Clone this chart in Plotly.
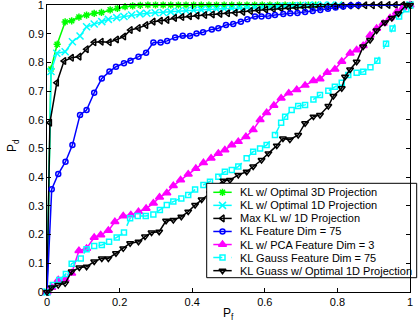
import plotly.graph_objects as go

# ---------------- data ----------------
names = [
    "KL w/ Optimal 3D Projection",
    "KL w/ Optimal 1D Projection",
    "Max KL w/ 1D Projection",
    "KL Feature Dim = 75",
    "KL w/ PCA Feature Dim = 3",
    "KL Gauss Feature Dim = 75",
    "KL Guass w/ Optimal 1D Projection",
]

green_x = [0, 0.011, 0.028, 0.05, 0.068, 0.088, 0.109, 0.13, 0.15, 0.174, 0.194, 0.215, 0.236,
           0.257, 0.278, 0.299, 0.32, 0.341, 0.362, 0.383, 0.404, 0.425, 0.446, 0.467, 0.488,
           0.509, 0.53, 0.551, 0.572, 0.593, 0.614, 0.635, 0.656, 0.677, 0.698, 0.72, 0.74, 1.0]
green_y = [0, 0.777, 0.863, 0.941, 0.945, 0.958, 0.965, 0.971, 0.974, 0.983, 0.988, 0.994, 0.997,
           0.999, 1, 1, 1, 1, 1, 1, 1, 1, 1, 1, 1,
           1, 1, 1, 1, 1, 1, 1, 1, 1, 1, 1, 1, 1]

cyan_x = [0, 0.011, 0.027, 0.05, 0.07, 0.091, 0.109, 0.13, 0.151, 0.169, 0.192, 0.212, 0.233,
          0.256, 0.275, 0.298, 0.32, 0.341, 0.362, 0.383, 0.404, 0.425, 0.446, 0.467, 0.488,
          0.509, 0.53, 0.551, 0.572, 0.593, 0.614, 0.635, 0.656, 0.677, 0.698, 0.72, 0.74,
          0.761, 0.782, 0.803, 1.0]
cyan_y = [0, 0.768, 0.832, 0.837, 0.872, 0.892, 0.924, 0.934, 0.942, 0.95, 0.956, 0.96, 0.965,
          0.969, 0.971, 0.973, 0.974, 0.976, 0.978, 0.98, 0.982, 0.983, 0.984, 0.986, 0.987,
          0.988, 0.99, 0.991, 0.992, 0.993, 0.994, 0.995, 0.996, 0.997, 0.998, 0.999, 1.0,
          1.0, 1.0, 1.0, 1.0]

maxkl_x = [0, 0.008, 0.027, 0.047, 0.068, 0.089, 0.109, 0.13, 0.15, 0.172, 0.192, 0.212, 0.23,
           0.252, 0.273, 0.293, 0.313, 0.331, 0.352, 0.372, 0.393, 0.414, 0.435, 0.456, 0.477,
           0.498, 0.519, 0.54, 0.561, 0.582, 0.603, 0.624, 0.645, 0.666, 0.687, 0.708, 0.729,
           0.75, 0.771, 0.792, 0.813, 0.834, 0.855, 0.876, 0.897, 0.918, 0.94, 0.96, 0.98, 1.0]
maxkl_y = [0, 0.59, 0.729, 0.805, 0.816, 0.82, 0.846, 0.87, 0.872, 0.87, 0.88, 0.89, 0.913,
           0.92, 0.93, 0.942, 0.945, 0.948, 0.955, 0.958, 0.961, 0.963, 0.965, 0.967, 0.969,
           0.971, 0.973, 0.976, 0.979, 0.982, 0.984, 0.986, 0.988, 0.99, 0.991, 0.992, 0.993,
           0.994, 0.995, 0.996, 0.997, 0.998, 0.998, 0.999, 0.999, 1.0, 1.0, 1.0, 1.0, 1.0]

blue_x = [0, 0.013, 0.031, 0.051, 0.07, 0.091, 0.109, 0.13, 0.151, 0.172, 0.19, 0.212, 0.23,
          0.252, 0.273, 0.293, 0.313, 0.331, 0.353, 0.374, 0.394, 0.412, 0.43, 0.454, 0.472,
          0.493, 0.513, 0.534, 0.552, 0.573, 0.591, 0.61, 0.628, 0.651, 0.67, 0.69, 0.711,
          0.732, 0.753, 0.774, 0.795, 0.816, 0.837, 0.858, 1.0]
blue_y = [0, 0.358, 0.411, 0.454, 0.512, 0.617, 0.634, 0.694, 0.744, 0.768, 0.785, 0.797, 0.806,
          0.82, 0.834, 0.869, 0.869, 0.875, 0.887, 0.893, 0.892, 0.901, 0.905, 0.915, 0.919,
          0.93, 0.934, 0.942, 0.95, 0.96, 0.96, 0.962, 0.965, 0.969, 0.971, 0.972, 0.976,
          0.979, 0.983, 0.987, 0.991, 0.995, 0.998, 1.0, 1.0]

pca_x = [0, 0.013, 0.031, 0.05, 0.068, 0.088, 0.109, 0.13, 0.148, 0.169, 0.187, 0.21, 0.231,
         0.252, 0.273, 0.293, 0.31, 0.33, 0.348, 0.368, 0.389, 0.41, 0.431, 0.452, 0.472,
         0.49, 0.509, 0.527, 0.548, 0.568, 0.587, 0.605, 0.625, 0.645, 0.666, 0.688, 0.711,
         0.734, 0.752, 0.772, 0.793, 0.812, 0.835, 0.853, 0.871, 0.89, 0.908, 0.926, 0.945,
         0.963, 0.98, 1.0]
pca_y = [0, 0.016, 0.042, 0.044, 0.065, 0.144, 0.152, 0.19, 0.199, 0.214, 0.245, 0.265, 0.268,
         0.28, 0.291, 0.309, 0.33, 0.345, 0.37, 0.39, 0.41, 0.43, 0.45, 0.466, 0.483,
         0.495, 0.512, 0.524, 0.541, 0.565, 0.6, 0.625, 0.65, 0.675, 0.693, 0.705, 0.72,
         0.736, 0.742, 0.765, 0.776, 0.803, 0.832, 0.843, 0.858, 0.895, 0.918, 0.936, 0.955,
         0.975, 0.99, 1.0]

gauss_x = [0, 0.016, 0.034, 0.052, 0.068, 0.093, 0.109, 0.13, 0.151, 0.171, 0.192, 0.212, 0.229,
           0.25, 0.272, 0.293, 0.311, 0.33, 0.348, 0.37, 0.389, 0.408, 0.431, 0.449, 0.472,
           0.49, 0.509, 0.527, 0.55, 0.568, 0.587, 0.605, 0.628, 0.645, 0.656, 0.674, 0.692,
           0.711, 0.734, 0.752, 0.775, 0.793, 0.812, 0.83, 0.853, 0.871, 0.891, 0.91, 0.934,
           0.952, 0.97, 0.99, 1.0]
gauss_y = [0, 0.024, 0.042, 0.063, 0.098, 0.117, 0.149, 0.16, 0.164, 0.175, 0.19, 0.207, 0.257,
           0.265, 0.265, 0.27, 0.286, 0.303, 0.315, 0.326, 0.338, 0.357, 0.373, 0.384, 0.402,
           0.419, 0.425, 0.437, 0.466, 0.489, 0.5, 0.512, 0.547, 0.59, 0.611, 0.634, 0.648,
           0.652, 0.671, 0.686, 0.701, 0.715, 0.729, 0.756, 0.764, 0.767, 0.783, 0.806, 0.865,
           0.918, 0.96, 0.985, 1.0]

g1d_x = [0, 0.013, 0.031, 0.05, 0.068, 0.089, 0.109, 0.13, 0.151, 0.169, 0.19, 0.21, 0.229,
         0.252, 0.27, 0.288, 0.309, 0.328, 0.348, 0.37, 0.389, 0.408, 0.426, 0.449, 0.468,
         0.486, 0.504, 0.527, 0.55, 0.568, 0.591, 0.61, 0.633, 0.65, 0.669, 0.692, 0.711,
         0.734, 0.752, 0.775, 0.789, 0.812, 0.821, 0.835, 0.853, 0.871, 0.89, 0.908, 0.931,
         0.95, 0.968, 0.99, 1.0]
g1d_y = [0, 0.016, 0.024, 0.03, 0.071, 0.085, 0.088, 0.106, 0.117, 0.117, 0.135, 0.152, 0.17,
         0.175, 0.193, 0.207, 0.21, 0.248, 0.251, 0.262, 0.28, 0.303, 0.322, 0.344, 0.37,
         0.388, 0.39, 0.408, 0.419, 0.437, 0.46, 0.483, 0.51, 0.535, 0.531, 0.547, 0.588,
         0.611, 0.617, 0.648, 0.683, 0.71, 0.75, 0.775, 0.802, 0.855, 0.878, 0.911, 0.939,
         0.955, 0.97, 1.0, 1.0]

x_ticks = [0, 0.2, 0.4, 0.6, 0.8, 1]
y_ticks = [0, 0.1, 0.2, 0.3, 0.4, 0.5, 0.6, 0.7, 0.8, 0.9, 1]

# ---------------- styles ----------------
series = [
    (green_x, green_y, "#00ff00", "asterisk-open", 6, "solid"),
    (cyan_x, cyan_y, "#00ffff", "x-thin-open", 7, "solid"),
    (maxkl_x, maxkl_y, "#000000", "triangle-left-open", 6, "solid"),
    (blue_x, blue_y, "#0000ff", "circle-open", 5, "solid"),
    (pca_x, pca_y, "#ff00ff", "triangle-up", 7, "solid"),
    (gauss_x, gauss_y, "#00ffff", "square-open", 5, "dash"),
    (g1d_x, g1d_y, "#000000", "triangle-down-open", 6, "solid"),
]

FONT = "Liberation Sans, Arial, sans-serif"

fig = go.Figure()
for (xs, ys, col, sym, sz, dash), nm in zip(series, names):
    fig.add_trace(go.Scatter(
        x=xs, y=ys, mode="lines+markers", name=nm, showlegend=False,
        line=dict(color=col, width=1.5, dash=dash),
        marker=dict(symbol=sym, size=sz, color=col, line=dict(color=col, width=1.5)),
        cliponaxis=False,
    ))

# ---------------- custom legend (pixel-coordinate overlay axes) ----------------
L, R, T, B = 47, 410, 5, 292
box_l, box_r, box_t, box_b = 206.7, 416.7, 183.3, 277.7
row0, row_step = 192.3, 13.06
fig.add_trace(go.Scatter(
    x=[box_l, box_r, box_r, box_l, box_l], y=[box_t, box_t, box_b, box_b, box_t],
    xaxis="x2", yaxis="y2", mode="lines", fill="toself", fillcolor="white",
    line=dict(width=0), showlegend=False, hoverinfo="skip"))
for i, ((xs, ys, col, sym, sz, dash), nm) in enumerate(zip(series, names)):
    yy = row0 + i * row_step
    fig.add_trace(go.Scatter(
        x=[213.3, 222.5, 231.7], y=[yy, yy, yy], xaxis="x2", yaxis="y2",
        mode="lines", line=dict(color=col, width=1.5, dash=dash),
        showlegend=False, hoverinfo="skip"))
    fig.add_trace(go.Scatter(
        x=[222.5], y=[yy], xaxis="x2", yaxis="y2", mode="markers",
        marker=dict(symbol=sym, size=sz, color=col, line=dict(color=col, width=1.5)),
        showlegend=False, hoverinfo="skip", cliponaxis=False))
    fig.add_annotation(x=238.3, y=yy, xref="x2", yref="y2", text=nm, showarrow=False,
                       xanchor="left", yanchor="middle",
                       font=dict(family=FONT, size=11, color="black"))

fig.add_shape(type="rect", xref="paper", yref="paper",
              x0=(box_l - L) / (R - L), x1=(box_r - L) / (R - L),
              y0=(B - box_b) / (B - T), y1=(B - box_t) / (B - T),
              line=dict(color="black", width=1), layer="above")

# axis titles as annotations
fig.add_annotation(x=(229 - L) / (R - L), y=-(314 - B) / (B - T), xref="paper", yref="paper",
                   text="P<sub>f</sub>", showarrow=False, xanchor="center", yanchor="middle",
                   font=dict(family=FONT, size=12, color="black"))
fig.add_annotation(x=-(L - 13) / (R - L), y=(B - 146) / (B - T), xref="paper", yref="paper",
                   text="P<sub>d</sub>", showarrow=False, xanchor="center", yanchor="middle",
                   textangle=-90, font=dict(family=FONT, size=12, color="black"))

axis_common = dict(
    showline=True, linecolor="black", linewidth=1, mirror="ticks",
    ticks="inside", ticklen=4, tickcolor="black", tickwidth=1,
    showgrid=False, zeroline=False, automargin=False,
    ticklabeloverflow="allow",
    tickfont=dict(family=FONT, size=11, color="black"),
)
fig.update_layout(
    width=418, height=323,
    margin=dict(l=L, r=418 - R, t=T, b=323 - B, autoexpand=False),
    paper_bgcolor="white", plot_bgcolor="white",
    hovermode=False,
    xaxis=dict(range=[0, 1], tickvals=x_ticks, ticktext=[f"{v:g}" for v in x_ticks],
               **axis_common),
    yaxis=dict(range=[0, 1], tickvals=y_ticks, ticktext=[f"{v:g}" for v in y_ticks],
               **axis_common),
    xaxis2=dict(range=[L, R], overlaying="x", visible=False, automargin=False),
    yaxis2=dict(range=[B, T], overlaying="y", visible=False, automargin=False),
)

fig.write_html(
    "out.html",
    config={"displayModeBar": False, "staticPlot": True},
    post_script="document.body.style.margin='0';document.body.style.padding='0';"
                "document.body.style.overflow='hidden';",
)
